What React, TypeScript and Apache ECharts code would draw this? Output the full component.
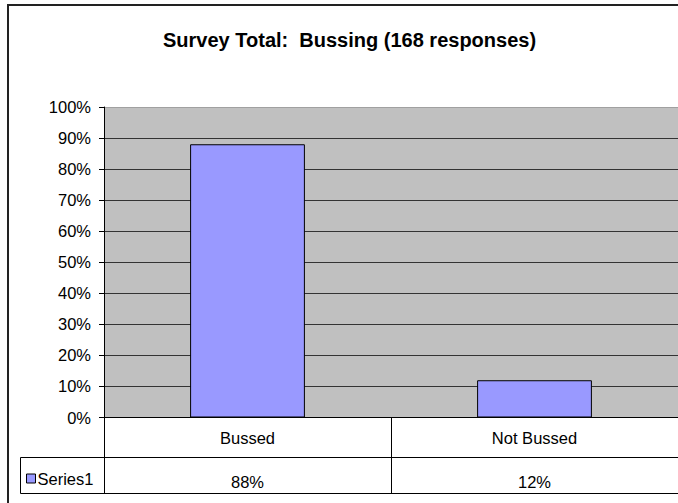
import React, { useEffect, useRef } from "react";
import * as echarts from "echarts";

const titleText = "Survey Total:  Bussing (168 responses)";
const categories = ["Bussed", "Not Bussed"];
const seriesName = "Series1";
const values = [88, 12];
const yTicksMax = 100;
const yTickStep = 10;

const FONT = "'Liberation Sans', Arial, sans-serif";

export default function App() {
  const ref = useRef<HTMLDivElement>(null);
  useEffect(() => {
    if (!ref.current) return;
    const chart = echarts.init(ref.current, null, { renderer: "svg" });
    const gridColors = Array.from({ length: yTicksMax / yTickStep + 1 }, (_, i) =>
      i === yTicksMax / yTickStep ? "#a0a0a0" : "#333333"
    );
    chart.setOption({
      animation: false,
      backgroundColor: "#ffffff",
      title: {
        text: titleText,
        left: 163,
        top: 30,
        padding: 0,
        textStyle: { fontFamily: FONT, fontSize: 20, fontWeight: "bold", color: "#000" },
      },
      legend: {
        data: [seriesName],
        left: 26,
        top: 470,
        padding: 0,
        itemWidth: 9,
        itemHeight: 9,
        icon: "rect",
        itemStyle: { color: "#9999ff", borderColor: "#000", borderWidth: 1 },
        textStyle: { fontFamily: FONT, fontSize: 16.5, color: "#000", padding: [0, 0, 0, -3] },
      },
      grid: {
        left: 104,
        right: -2,
        top: 107,
        bottom: 85.5,
        show: true,
        backgroundColor: "#c0c0c0",
        borderWidth: 0,
      },
      xAxis: [
        {
          type: "category",
          data: categories,
          position: "bottom",
          axisLine: { show: true, lineStyle: { color: "#000", width: 1 } },
          axisTick: { show: true, length: 76, interval: 0, lineStyle: { color: "#000", width: 1 } },
          axisLabel: { margin: 12, fontFamily: FONT, fontSize: 16.5, color: "#000", interval: 0 },
          splitLine: { show: false },
        },
        {
          type: "category",
          data: values.map((v) => v + "%"),
          position: "bottom",
          offset: 39.5,
          axisLine: { show: false },
          axisTick: { show: false },
          axisLabel: { margin: 16, fontFamily: FONT, fontSize: 16.5, color: "#000", interval: 0 },
          splitLine: { show: false },
        },
      ],
      yAxis: {
        type: "value",
        min: 0,
        max: yTicksMax,
        interval: yTickStep,
        axisLine: { show: true, lineStyle: { color: "#000", width: 1 } },
        axisTick: { show: true, length: 5, inside: false, lineStyle: { color: "#000" } },
        axisLabel: { margin: 13, fontFamily: FONT, fontSize: 16.5, color: "#000", formatter: "{value}%" },
        splitLine: { show: true, lineStyle: { color: gridColors, width: 1 } },
      },
      series: [
        {
          name: seriesName,
          type: "bar",
          xAxisIndex: 0,
          data: values,
          barCategoryGap: "60%",
          itemStyle: { color: "#9999ff", borderColor: "#000", borderWidth: 1 },
        },
      ],
      graphic: [
        {
          type: "rect",
          silent: true,
          z: -10,
          shape: { x: 8, y: 5, width: 700, height: 520 },
          style: { fill: "none", stroke: "#222", lineWidth: 2 },
        },
        {
          type: "line",
          silent: true,
          shape: { x1: 20.5, y1: 457.5, x2: 690, y2: 457.5 },
          style: { stroke: "#000", lineWidth: 1 },
        },
        {
          type: "line",
          silent: true,
          shape: { x1: 20.5, y1: 493.5, x2: 690, y2: 493.5 },
          style: { stroke: "#000", lineWidth: 1 },
        },
        {
          type: "line",
          silent: true,
          shape: { x1: 20.5, y1: 457.5, x2: 20.5, y2: 493.5 },
          style: { stroke: "#000", lineWidth: 1 },
        },
      ],
    });
    return () => chart.dispose();
  }, []);
  return (
    <div
      ref={ref}
      style={{ position: "fixed", left: 0, top: 0, width: 678, height: 503, background: "#fff" }}
    />
  );
}
